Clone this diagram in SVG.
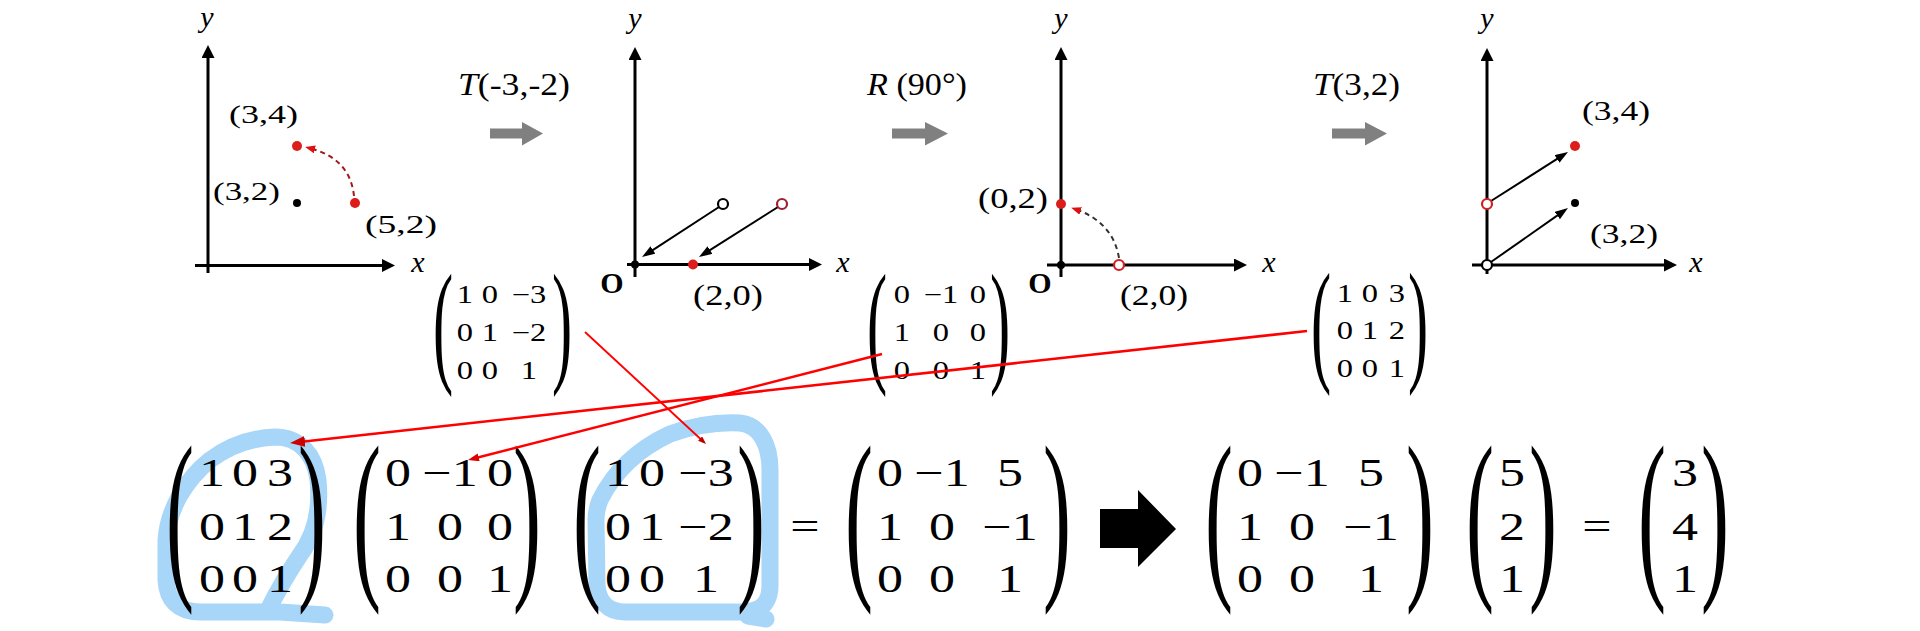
<svg xmlns="http://www.w3.org/2000/svg" width="1920" height="631" viewBox="0 0 1920 631">
<defs>
<style>
.ax{stroke:#000;stroke-width:3;fill:none}
.thin{stroke:#000;stroke-width:2;fill:none}
.t{font-family:'Liberation Serif','DejaVu Serif',serif;fill:#000}
.it{font-style:italic}
.ob{font-weight:bold;text-anchor:middle}
.m{font-family:'Liberation Serif','DejaVu Serif',serif;fill:#000;text-anchor:middle;transform-box:fill-box;transform-origin:center;transform:scaleX(1.3)}
.ms{font-size:25px}
.mb{font-size:40px}
.p{font-family:'Liberation Serif','DejaVu Serif',serif;fill:#000;text-anchor:middle}
.pb{font-size:84px}
.ps{font-size:55px}
.rd{fill:#dd1c1c}
.bd{fill:#000}
.oc{fill:#fff;stroke-width:2.2}
.hl{fill:none;stroke:#a8d6f8;stroke-width:17;stroke-linecap:round;stroke-linejoin:round}
.gar{fill:#808080}
.dash{fill:none;stroke-width:2;stroke-dasharray:5 4}
</style>
<marker id="axh" markerUnits="userSpaceOnUse" markerWidth="14" markerHeight="14" refX="7" refY="6.5" orient="auto"><path d="M0,0 L13,6.5 L0,13 Z" fill="#000"/></marker>
<marker id="sh" markerUnits="userSpaceOnUse" markerWidth="14" markerHeight="10" refX="8" refY="4.5" orient="auto"><path d="M0,0 L13,4.5 L0,9 Z" fill="#000"/></marker>
<marker id="dh" markerUnits="userSpaceOnUse" markerWidth="11" markerHeight="9" refX="6" refY="4" orient="auto"><path d="M0,0 L10,4 L0,8 Z" fill="#e01010"/></marker>
<marker id="ra" markerUnits="userSpaceOnUse" markerWidth="16" markerHeight="12" refX="10" refY="5.5" orient="auto"><path d="M0,0 L15,5.5 L0,11 Z" fill="#cc0000"/></marker>
<marker id="rb" markerUnits="userSpaceOnUse" markerWidth="12" markerHeight="9" refX="7" refY="4" orient="auto"><path d="M0,0 L11,4 L0,8 Z" fill="#dd0000"/></marker>
<marker id="rc" markerUnits="userSpaceOnUse" markerWidth="9" markerHeight="7" refX="5" refY="3" orient="auto"><path d="M0,0 L8,3 L0,6 Z" fill="#bb0000"/></marker>
</defs>
<rect width="1920" height="631" fill="#fff"/>

<g id="highlights">
<path class="hl" d="M325 615 L280 612 L200 612 C178 612 167 600 166 580 L166 540 C168 510 185 480 210 460 C230 445 250 438 275 437 C300 437 315 455 318 480 C321 510 315 535 300 555 C290 570 278 590 268 610"/>
<path class="hl" d="M600 500 C615 470 640 448 670 434 C695 425 720 422 740 423 C760 425 770 445 770 470 L770 585 C770 605 760 612 740 612 L625 612 C607 612 598 600 597 585 L596 520 C596 510 598 505 600 500 Z"/>
<path class="hl" d="M748 616 L766 619"/>
</g>

<g id="panel1">
<line class="ax" x1="208" y1="273" x2="208" y2="51" marker-end="url(#axh)"/>
<line class="ax" x1="195" y1="265.5" x2="389" y2="265.5" marker-end="url(#axh)"/>
<text class="t it" x="207" y="27" font-size="30" text-anchor="middle">y</text>
<text class="t it" x="418" y="272" font-size="30" text-anchor="middle">x</text>
<path class="dash" stroke="#a01818" d="M354 196 Q350 158 309 148" marker-end="url(#dh)"/>
<circle class="rd" cx="297" cy="146" r="5"/>
<circle class="bd" cx="297" cy="203" r="4"/>
<circle class="rd" cx="355" cy="203" r="5"/>
<text class="t" x="229" y="122.5" font-size="26" textLength="69" lengthAdjust="spacingAndGlyphs">(3,4)</text>
<text class="t" x="213" y="199.5" font-size="26" textLength="67" lengthAdjust="spacingAndGlyphs">(3,2)</text>
<text class="t" x="365" y="232.5" font-size="26" textLength="72" lengthAdjust="spacingAndGlyphs">(5,2)</text>
</g>

<g id="step1">
<text class="t" x="458" y="94.5" font-size="32" textLength="112" lengthAdjust="spacingAndGlyphs"><tspan class="it">T</tspan>(-3,-2)</text>
<polygon class="gar" points="490,128.5 522,128.5 522,122 543,133.5 522,145.5 522,138.5 490,138.5"/>
</g>

<g id="panel2">
<line class="ax" x1="635" y1="277" x2="635" y2="53" marker-end="url(#axh)"/>
<line class="ax" x1="627" y1="264.5" x2="816" y2="264.5" marker-end="url(#axh)"/>
<text class="t it" x="635" y="28" font-size="30" text-anchor="middle">y</text>
<text class="t it" x="843" y="272" font-size="30" text-anchor="middle">x</text>
<text class="t ob" x="612" y="293" font-size="30">O</text>
<line class="thin" x1="719" y1="207" x2="646.2" y2="254.3" marker-end="url(#sh)"/>
<line class="thin" x1="778" y1="207" x2="703.2" y2="254.3" marker-end="url(#sh)"/>
<circle class="bd" cx="635" cy="264.5" r="4"/>
<circle class="rd" cx="693" cy="264.5" r="5"/>
<circle class="oc" stroke="#000" cx="723" cy="204" r="5"/>
<circle class="oc" stroke="#a02030" cx="782" cy="204" r="5"/>
<text class="t" x="693" y="305" font-size="30" textLength="70" lengthAdjust="spacingAndGlyphs">(2,0)</text>
</g>

<g id="step2">
<text class="t" x="867" y="94.5" font-size="32" textLength="100" lengthAdjust="spacingAndGlyphs"><tspan class="it">R</tspan> (90°)</text>
<polygon class="gar" points="892,128.5 925,128.5 925,122 948,133.5 925,145.5 925,138.5 892,138.5"/>
</g>

<g id="panel3">
<line class="ax" x1="1061" y1="277" x2="1061" y2="53" marker-end="url(#axh)"/>
<line class="ax" x1="1047" y1="265" x2="1241" y2="265" marker-end="url(#axh)"/>
<text class="t it" x="1061" y="28" font-size="30" text-anchor="middle">y</text>
<text class="t it" x="1269" y="272" font-size="30" text-anchor="middle">x</text>
<text class="t ob" x="1040" y="293" font-size="30">O</text>
<path class="dash" stroke="#333" d="M1119 258 Q1113 222 1075 209" marker-end="url(#dh)"/>
<circle class="bd" cx="1061" cy="265" r="4"/>
<circle class="rd" cx="1061" cy="204" r="5"/>
<circle class="oc" stroke="#d02020" cx="1119" cy="265" r="5"/>
<text class="t" x="978" y="208" font-size="30" textLength="70" lengthAdjust="spacingAndGlyphs">(0,2)</text>
<text class="t" x="1120" y="305" font-size="30" textLength="68" lengthAdjust="spacingAndGlyphs">(2,0)</text>
</g>

<g id="step3">
<text class="t" x="1313" y="94.5" font-size="32" textLength="87" lengthAdjust="spacingAndGlyphs"><tspan class="it">T</tspan>(3,2)</text>
<polygon class="gar" points="1332,128.5 1365,128.5 1365,122 1387,133.5 1365,145.5 1365,138.5 1332,138.5"/>
</g>

<g id="panel4">
<line class="ax" x1="1487" y1="274" x2="1487" y2="54" marker-end="url(#axh)"/>
<line class="ax" x1="1472" y1="265" x2="1671" y2="265" marker-end="url(#axh)"/>
<text class="t it" x="1487" y="28" font-size="30" text-anchor="middle">y</text>
<text class="t it" x="1696" y="272" font-size="30" text-anchor="middle">x</text>
<line class="thin" x1="1491" y1="201" x2="1563.8" y2="154.7" marker-end="url(#sh)"/>
<line class="thin" x1="1491" y1="262" x2="1563.9" y2="210.9" marker-end="url(#sh)"/>
<circle class="oc" stroke="#d02020" cx="1487" cy="204" r="5"/>
<circle class="oc" stroke="#000" cx="1487" cy="265" r="5"/>
<circle class="rd" cx="1575" cy="146" r="5"/>
<circle class="bd" cx="1575" cy="203" r="4"/>
<text class="t" x="1582" y="120" font-size="28" textLength="68" lengthAdjust="spacingAndGlyphs">(3,4)</text>
<text class="t" x="1590" y="243" font-size="28" textLength="68" lengthAdjust="spacingAndGlyphs">(3,2)</text>
</g>

<g id="matrix-T1">
<text class="p ps" transform="translate(443 334) scale(1.1 2.47)" y="13.7">(</text>
<text class="p ps" transform="translate(562 334) scale(1.1 2.47)" y="13.7">)</text>
<text class="m ms" x="465" y="303.5">1</text><text class="m ms" x="490" y="303.5">0</text><text class="m ms" x="529" y="303.5">−3</text>
<text class="m ms" x="465" y="341.5">0</text><text class="m ms" x="490" y="341.5">1</text><text class="m ms" x="529" y="341.5">−2</text>
<text class="m ms" x="465" y="379.5">0</text><text class="m ms" x="490" y="379.5">0</text><text class="m ms" x="529" y="379.5">1</text>
</g>

<g id="matrix-R">
<text class="p ps" transform="translate(877 334) scale(1.1 2.47)" y="13.7">(</text>
<text class="p ps" transform="translate(1000 334) scale(1.1 2.47)" y="13.7">)</text>
<text class="m ms" x="902" y="303.5">0</text><text class="m ms" x="941" y="303.5">−1</text><text class="m ms" x="978" y="303.5">0</text>
<text class="m ms" x="902" y="341.5">1</text><text class="m ms" x="941" y="341.5">0</text><text class="m ms" x="978" y="341.5">0</text>
<text class="m ms" x="902" y="379.5">0</text><text class="m ms" x="941" y="379.5">0</text><text class="m ms" x="978" y="379.5">1</text>
</g>

<g id="matrix-T2">
<text class="p ps" transform="translate(1321 333) scale(1.1 2.47)" y="13.7">(</text>
<text class="p ps" transform="translate(1418 333) scale(1.1 2.47)" y="13.7">)</text>
<text class="m ms" x="1345" y="302">1</text><text class="m ms" x="1370" y="302">0</text><text class="m ms" x="1397" y="302">3</text>
<text class="m ms" x="1345" y="339.5">0</text><text class="m ms" x="1370" y="339.5">1</text><text class="m ms" x="1397" y="339.5">2</text>
<text class="m ms" x="1345" y="377">0</text><text class="m ms" x="1370" y="377">0</text><text class="m ms" x="1397" y="377">1</text>
</g>

<g id="equation">
<g id="eq-A">
<text class="p pb" transform="translate(180 528) scale(1 2.22)" y="21">(</text>
<text class="p pb" transform="translate(312 528) scale(1 2.22)" y="21">)</text>
<text class="m mb" x="212" y="486.5">1</text><text class="m mb" x="245" y="486.5">0</text><text class="m mb" x="280" y="486.5">3</text>
<text class="m mb" x="212" y="540.5">0</text><text class="m mb" x="245" y="540.5">1</text><text class="m mb" x="280" y="540.5">2</text>
<text class="m mb" x="212" y="592.5">0</text><text class="m mb" x="245" y="592.5">0</text><text class="m mb" x="280" y="592.5">1</text>
</g>
<g id="eq-B">
<text class="p pb" transform="translate(367 528) scale(1 2.22)" y="21">(</text>
<text class="p pb" transform="translate(527 528) scale(1 2.22)" y="21">)</text>
<text class="m mb" x="398" y="486.5">0</text><text class="m mb" x="450" y="486.5">−1</text><text class="m mb" x="500" y="486.5">0</text>
<text class="m mb" x="398" y="540.5">1</text><text class="m mb" x="450" y="540.5">0</text><text class="m mb" x="500" y="540.5">0</text>
<text class="m mb" x="398" y="592.5">0</text><text class="m mb" x="450" y="592.5">0</text><text class="m mb" x="500" y="592.5">1</text>
</g>
<g id="eq-C">
<text class="p pb" transform="translate(587 528) scale(1 2.22)" y="21">(</text>
<text class="p pb" transform="translate(751 528) scale(1 2.22)" y="21">)</text>
<text class="m mb" x="618" y="486.5">1</text><text class="m mb" x="652" y="486.5">0</text><text class="m mb" x="706" y="486.5">−3</text>
<text class="m mb" x="618" y="540.5">0</text><text class="m mb" x="652" y="540.5">1</text><text class="m mb" x="706" y="540.5">−2</text>
<text class="m mb" x="618" y="592.5">0</text><text class="m mb" x="652" y="592.5">0</text><text class="m mb" x="706" y="592.5">1</text>
</g>
<text class="m mb" x="805" y="540">=</text>
<g id="eq-D">
<text class="p pb" transform="translate(859 528) scale(1 2.22)" y="21">(</text>
<text class="p pb" transform="translate(1057 528) scale(1 2.22)" y="21">)</text>
<text class="m mb" x="890" y="486.5">0</text><text class="m mb" x="942" y="486.5">−1</text><text class="m mb" x="1010" y="486.5">5</text>
<text class="m mb" x="890" y="540.5">1</text><text class="m mb" x="942" y="540.5">0</text><text class="m mb" x="1010" y="540.5">−1</text>
<text class="m mb" x="890" y="592.5">0</text><text class="m mb" x="942" y="592.5">0</text><text class="m mb" x="1010" y="592.5">1</text>
</g>
<polygon id="implies" fill="#000" points="1100,509 1138,509 1138,490 1176,529 1138,567 1138,548 1100,548"/>
<g id="eq-E">
<text class="p pb" transform="translate(1219 528) scale(1 2.22)" y="21">(</text>
<text class="p pb" transform="translate(1420 528) scale(1 2.22)" y="21">)</text>
<text class="m mb" x="1250" y="486.5">0</text><text class="m mb" x="1302" y="486.5">−1</text><text class="m mb" x="1371" y="486.5">5</text>
<text class="m mb" x="1250" y="540.5">1</text><text class="m mb" x="1302" y="540.5">0</text><text class="m mb" x="1371" y="540.5">−1</text>
<text class="m mb" x="1250" y="592.5">0</text><text class="m mb" x="1302" y="592.5">0</text><text class="m mb" x="1371" y="592.5">1</text>
</g>
<g id="eq-v1">
<text class="p pb" transform="translate(1480 528) scale(1 2.22)" y="21">(</text>
<text class="p pb" transform="translate(1543 528) scale(1 2.22)" y="21">)</text>
<text class="m mb" x="1512" y="486.5">5</text>
<text class="m mb" x="1512" y="540.5">2</text>
<text class="m mb" x="1512" y="592.5">1</text>
</g>
<text class="m mb" x="1597" y="540">=</text>
<g id="eq-v2">
<text class="p pb" transform="translate(1652 528) scale(1 2.22)" y="21">(</text>
<text class="p pb" transform="translate(1715 528) scale(1 2.22)" y="21">)</text>
<text class="m mb" x="1685" y="486.5">3</text>
<text class="m mb" x="1685" y="540.5">4</text>
<text class="m mb" x="1685" y="592.5">1</text>
</g>
</g>

<g id="connectors">
<line stroke="#ff0000" stroke-width="2.6" x1="1307" y1="331" x2="295" y2="442.5" marker-end="url(#ra)"/>
<line stroke="#ff0000" stroke-width="2.4" x1="882" y1="354" x2="471.9" y2="459" marker-end="url(#rb)"/>
<line stroke="#ff0000" stroke-width="1.8" x1="585" y1="332" x2="703.8" y2="442" marker-end="url(#rc)"/>
</g>
</svg>
